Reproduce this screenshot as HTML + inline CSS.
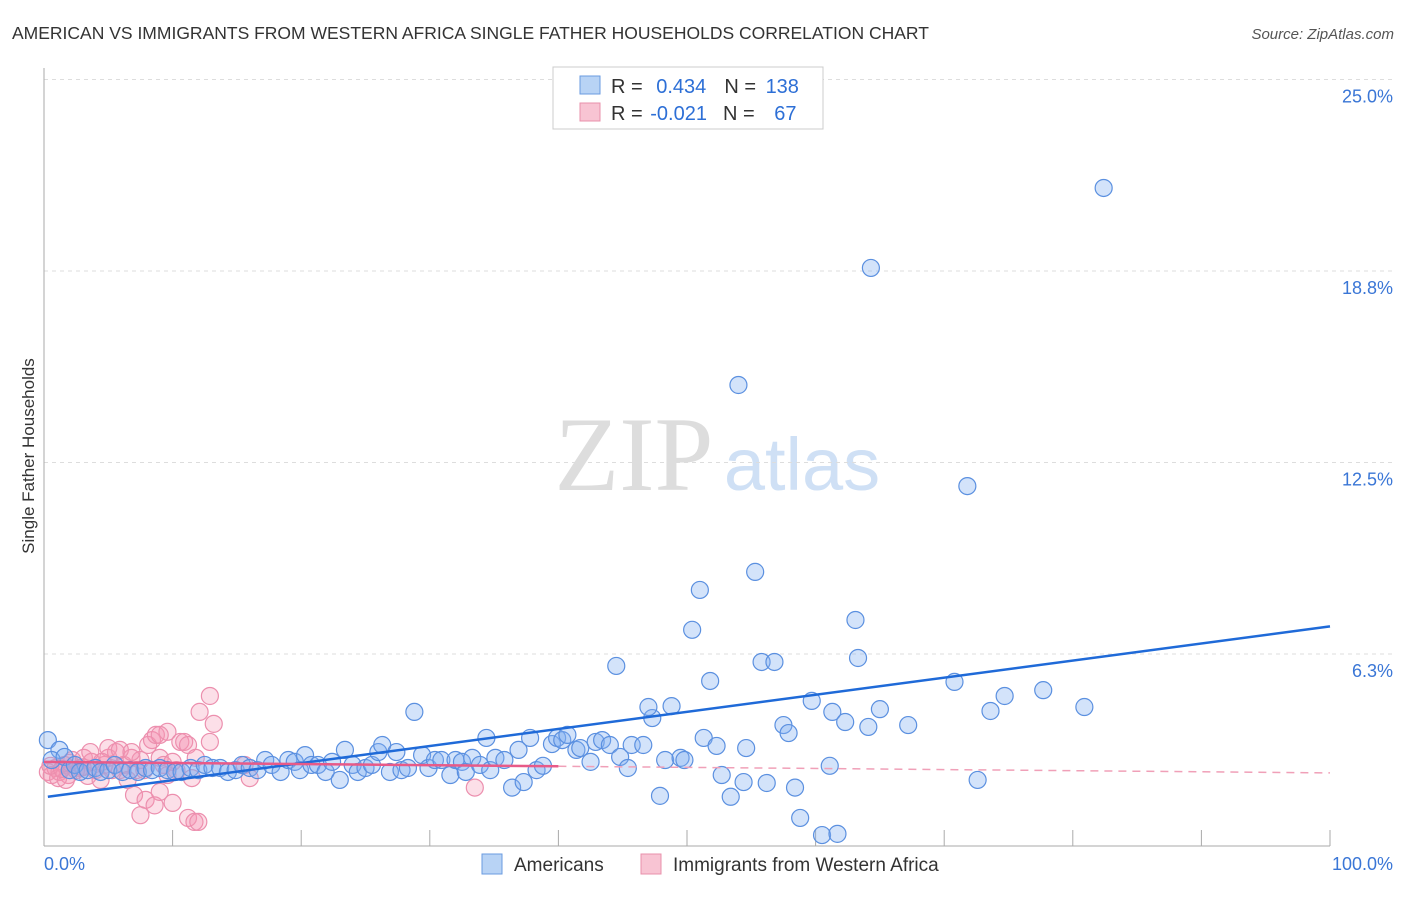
<!DOCTYPE html>
<html><head><meta charset="utf-8"><style>
body{margin:0;background:#fff;font-family:"Liberation Sans",sans-serif}
</style></head><body>
<svg id="chart" width="1406" height="892" xmlns="http://www.w3.org/2000/svg" font-family="Liberation Sans, sans-serif">
<text x="12" y="39" font-size="17.5" fill="#333">AMERICAN VS IMMIGRANTS FROM WESTERN AFRICA SINGLE FATHER HOUSEHOLDS CORRELATION CHART</text>
<text x="1394" y="39" font-size="15" fill="#555" text-anchor="end" font-style="italic">Source: ZipAtlas.com</text>
<text transform="translate(34,456) rotate(-90)" font-size="17" fill="#333" text-anchor="middle">Single Father Households</text>
<g>
<text x="634" y="490" font-size="106" fill="#ddd" text-anchor="middle" font-family="Liberation Serif, serif">ZIP</text>
<text x="802" y="490" font-size="74" fill="#cfe0f5" text-anchor="middle">atlas</text>
</g>
<g id="grid"></g><g id="axes"></g><g id="pts"></g><g id="lines"></g>
<g>
<rect x="553" y="67" width="270" height="62" fill="#fff" stroke="#ccc"/>
<rect x="580" y="76" width="20" height="18" fill="#b8d3f5" stroke="#6a9be0"/>
<rect x="580" y="103" width="20" height="18" fill="#f8c4d3" stroke="#e890ab"/>
<text x="611" y="93" font-size="20" fill="#333">R = <tspan fill="#2d6fd6" dx="8">0.434</tspan><tspan dx="18" fill="#333">N = </tspan><tspan fill="#2d6fd6" dx="4">138</tspan></text>
<text x="611" y="120" font-size="20" fill="#333">R = <tspan fill="#2d6fd6" dx="2">-0.021</tspan><tspan dx="16" fill="#333">N = </tspan><tspan fill="#2d6fd6" dx="14">67</tspan></text>
</g>
<g>
<rect x="482" y="854" width="20" height="20" fill="#b8d3f5" stroke="#6a9be0"/>
<text x="514" y="871" font-size="19" fill="#333">Americans</text>
<rect x="641" y="854" width="20" height="20" fill="#f8c4d3" stroke="#e890ab"/>
<text x="673" y="871" font-size="19" fill="#333">Immigrants from Western Africa</text>
</g>
</svg>
<script>
const yTicks=[25.0,18.8,12.5,6.3];
const yTickVals=[25,18.75,12.5,6.25];
const xTickLabels=["0.0%","100.0%"];
const blueX=[0.3,1.2,0.6,1.6,2.0,2.4,2.8,3.4,4.0,4.4,5.0,5.5,6.1,6.7,7.3,7.9,8.4,9.0,9.6,10.2,10.7,11.4,12.0,12.5,13.1,13.7,14.3,14.9,15.4,16.0,16.6,17.2,17.7,18.4,19.0,19.5,19.9,20.3,20.8,21.3,21.9,22.4,23.0,23.4,24.0,24.4,25.0,25.5,26.0,26.3,26.9,27.4,27.8,28.3,28.8,29.4,29.9,30.4,30.9,31.6,32.0,32.5,32.8,33.3,33.9,34.4,34.7,35.1,35.8,36.4,36.9,37.3,37.8,38.3,38.8,39.5,39.9,40.3,40.7,41.4,41.7,42.5,42.9,43.4,44.0,44.5,44.8,45.4,45.7,46.6,47.3,47.0,47.9,48.3,48.8,49.5,49.8,50.4,51.0,51.3,51.8,52.3,52.7,53.4,54.0,54.4,54.6,55.3,55.8,56.2,56.8,57.5,57.9,58.4,58.8,59.7,60.5,61.1,61.3,61.7,62.3,63.1,63.3,64.1,64.3,65.0,67.2,70.8,71.8,72.6,73.6,74.7,77.7,80.9,82.4];
const blueY=[3.44,3.12,2.79,2.89,2.46,2.63,2.40,2.46,2.53,2.40,2.46,2.63,2.40,2.46,2.40,2.53,2.46,2.53,2.46,2.40,2.40,2.53,2.46,2.63,2.53,2.53,2.40,2.46,2.63,2.53,2.46,2.79,2.63,2.40,2.79,2.73,2.46,2.95,2.63,2.63,2.40,2.73,2.14,3.12,2.63,2.40,2.53,2.63,3.05,3.28,2.40,3.05,2.46,2.53,4.36,2.95,2.53,2.79,2.79,2.30,2.79,2.73,2.40,2.86,2.63,3.51,2.46,2.86,2.79,1.89,3.12,2.07,3.51,2.46,2.60,3.31,3.51,3.44,3.61,3.12,3.18,2.73,3.38,3.44,3.28,5.86,2.89,2.53,3.28,3.28,4.16,4.52,1.62,2.79,4.55,2.86,2.79,7.04,8.34,3.51,5.37,3.25,2.30,1.59,15.03,2.07,3.18,8.93,5.99,2.04,5.99,3.93,3.67,1.89,0.90,4.72,0.34,2.60,4.36,0.38,4.03,7.36,6.12,3.87,18.85,4.45,3.93,5.34,11.73,2.14,4.39,4.88,5.07,4.52,21.46];
const pinkX=[0.3,0.6,0.9,1.2,1.6,1.9,2.2,2.5,2.8,3.1,3.4,3.7,4.0,4.4,4.7,5.0,5.3,5.6,5.9,6.2,6.5,6.8,7.2,7.5,7.8,8.1,8.4,8.7,9.0,9.3,9.6,10.0,10.3,10.6,10.9,11.2,11.5,11.8,12.1,12.9,13.2,12.9,16.0,7.0,7.5,7.9,8.6,9.0,10.0,11.2,11.7,12.0,33.5,5.0,5.9,6.8,1.1,1.7,3.6,4.5,15.6,9.0,9.6,0.5,1.4,2.0,3.0];
const pinkY=[2.40,2.30,2.53,2.40,2.63,2.30,2.79,2.46,2.53,2.86,2.27,2.73,2.46,2.14,2.63,2.86,2.46,3.05,2.46,2.63,2.14,2.86,2.46,2.79,2.46,3.28,3.44,3.61,2.86,2.63,3.71,2.73,2.46,3.38,3.38,3.28,2.20,2.86,4.36,4.88,3.97,3.38,2.20,1.65,0.99,1.49,1.31,1.75,1.39,0.90,0.77,0.77,1.89,3.18,3.12,3.05,2.20,2.14,3.05,2.73,2.63,3.61,2.30,2.60,2.50,2.70,2.55];
const blueTrend=[1.59,7.15];
const pinkTrend=[2.73,2.37];
const NS="http://www.w3.org/2000/svg";
const X0=44,X1=1330,YB=845.5,PPY=30.64;
const sx=v=>X0+(X1-X0)*v/100;
const sy=v=>YB-v*PPY;
function mk(tag,attrs,parent){const e=document.createElementNS(NS,tag);for(const k in attrs)e.setAttribute(k,attrs[k]);parent.appendChild(e);return e;}
const grid=document.getElementById('grid'),axes=document.getElementById('axes'),pts=document.getElementById('pts'),lines=document.getElementById('lines');
yTickVals.forEach((v,i)=>{
 const l=mk('line',{x1:X0,x2:1394,y1:sy(v),y2:sy(v),stroke:'#ddd','stroke-dasharray':'4,4'},grid);
 
 
 const t=mk('text',{x:1393,y:sy(v)+23,'font-size':18,fill:'#3a76d6','text-anchor':'end'},axes);
 t.textContent=yTicks[i].toFixed(1)+'%';
 
 
});
const ax=mk('line',{x1:X0,x2:X0,y1:68,y2:846,stroke:'#aaa'},axes);


const bx=mk('line',{x1:X0,x2:X1,y1:846,y2:846,stroke:'#aaa'},axes);


for(let i=1;i<=10;i++){
 const tk=mk('line',{x1:sx(i*10),x2:sx(i*10),y1:830,y2:846,stroke:'#aaa'},axes);
 
 
}
const xl0=mk('text',{x:44,y:870,'font-size':18,fill:'#3a76d6'},axes);
xl0.textContent=xTickLabels[0];


const xl1=mk('text',{x:1393,y:870,'font-size':18,fill:'#3a76d6','text-anchor':'end'},axes);
xl1.textContent=xTickLabels[1];


pinkX.forEach((x,i)=>{
 const c=mk('circle',{cx:sx(x),cy:sy(pinkY[i]),r:8.5,fill:'rgba(245,150,180,0.3)',stroke:'#ec8fae','stroke-width':1.2},pts);
 
 
});
blueX.forEach((x,i)=>{
 const c=mk('circle',{cx:sx(x),cy:sy(blueY[i]),r:8.5,fill:'rgba(130,175,240,0.35)',stroke:'#5b90e0','stroke-width':1.2},pts);
 
 
});
const bl=mk('line',{x1:sx(0.3),y1:sy(blueTrend[0]),x2:sx(100),y2:sy(blueTrend[1]),stroke:'#1f6ad8','stroke-width':2.5},lines);


const pAt=x=>pinkTrend[0]+(pinkTrend[1]-pinkTrend[0])*x/100;
const pl=mk('line',{x1:sx(0),y1:sy(pAt(0)),x2:sx(40),y2:sy(pAt(40)),stroke:'#e85a88','stroke-width':2.5},lines);


const pd=mk('line',{x1:sx(40),y1:sy(pAt(40)),x2:sx(100),y2:sy(pAt(100)),stroke:'#f0a0b8','stroke-width':1.5,'stroke-dasharray':'8,6'},lines);


</script>
</body></html>
